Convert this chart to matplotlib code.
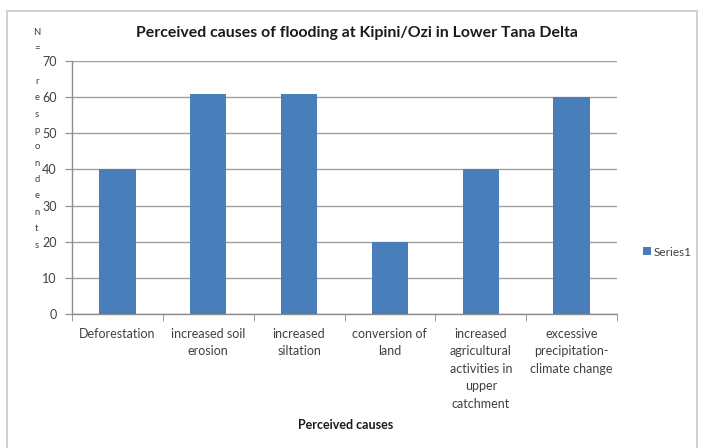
import matplotlib
matplotlib.use("Agg")
import matplotlib.pyplot as plt
from matplotlib.patches import Rectangle, Patch

plt.rcParams['font.family'] = ['Lato', 'DejaVu Sans']

categories = [
    "Deforestation",
    "increased soil\nerosion",
    "increased\nsiltation",
    "conversion of\nland",
    "increased\nagricultural\nactivities in\nupper\ncatchment",
    "excessive\nprecipitation-\nclimate change",
]
respondents = [40, 61, 61, 20, 40, 60]
y_ticks = [0, 10, 20, 30, 40, 50, 60, 70]
series_name = "Series1"
title = "Perceived causes of flooding at Kipini/Ozi in Lower Tana Delta"
x_label = "Perceived causes"
y_label = "N= respondents"

W, H = 702, 448
fig = plt.figure(figsize=(W / 100, H / 100), dpi=100)
fig.patch.set_facecolor("white")

# chart frame
fig.add_artist(Rectangle((7 / W, -0.01), (697 - 7) / W, 1 - 11 / H + 0.01,
                         transform=fig.transFigure, fill=False,
                         edgecolor="#c8c8c8", linewidth=1.2))

ax = fig.add_axes([72 / W, 1 - 314 / H, (617 - 72) / W, (314 - 61) / H])
bar_color = "#4a7ebb"
x = list(range(len(categories)))
ax.bar(x, respondents, width=0.4, color=bar_color, zorder=3, label=series_name)

ax.set_xlim(-0.5, len(categories) - 0.5)
ax.set_ylim(0, 70)
ax.set_yticks(y_ticks)
ax.yaxis.grid(True, color="#a0a0a0", linewidth=1.0, zorder=0)
ax.set_axisbelow(True)

for s in ["top", "right"]:
    ax.spines[s].set_visible(False)
for s in ["left", "bottom"]:
    ax.spines[s].set_color("#8c8c8c")
    ax.spines[s].set_linewidth(1.0)

ax.tick_params(axis="y", length=5, color="#8c8c8c", labelsize=9,
               labelcolor="#404040", pad=6)
ax.set_xticks(x)
ax.set_xticklabels(categories, fontsize=9, color="#404040", linespacing=1.55,
                   va="top")
ax.tick_params(axis="x", length=0, pad=10)
# category boundary ticks
ax.set_xticks([i - 0.5 for i in range(len(categories) + 1)], minor=True)
ax.tick_params(axis="x", which="minor", length=5, color="#8c8c8c")

fig.text(357 / W, 1 - 33 / H, title, ha="center", va="center",
         fontsize=11.4, fontweight="bold", color="#1a1a1a")
fig.text(346 / W, 1 - 425 / H, x_label, ha="center", va="center",
         fontsize=9, fontweight="bold", color="#1a1a1a")

# stacked y-axis caption, one character per line
stacked = "\n".join(list(y_label))
fig.text(37 / W, 1 - 28 / H, stacked, ha="center", va="top",
         fontsize=6.8, color="#404040", linespacing=2.05)

leg = fig.legend(handles=[Patch(facecolor=bar_color, label=series_name)],
                 loc="center left", bbox_to_anchor=(632 / W, 1 - 252 / H),
                 frameon=False, fontsize=8.5, handlelength=0.7,
                 handleheight=0.7, handletextpad=0.2)
for t in leg.get_texts():
    t.set_color("#404040")

fig.savefig("out.png", dpi=100)
